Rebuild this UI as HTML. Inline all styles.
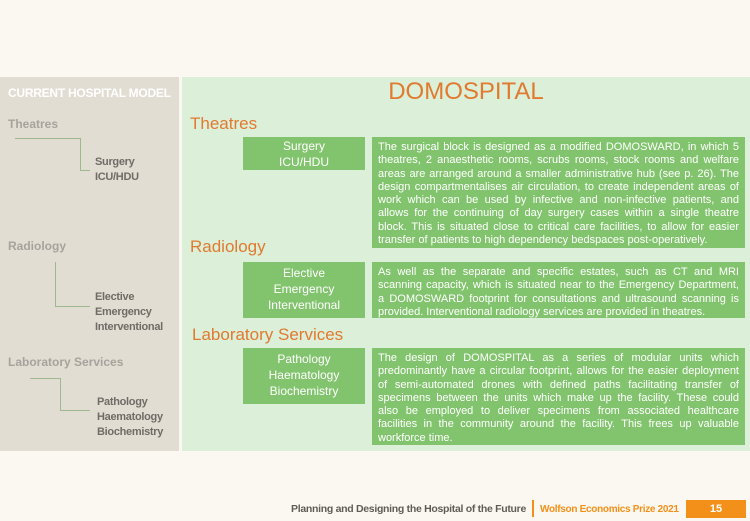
<!DOCTYPE html>
<html><head><meta charset="utf-8"><style>
*{margin:0;padding:0;box-sizing:border-box}
body{width:750px;height:521px;background:#fbf8f1;font-family:"Liberation Sans",sans-serif;position:relative;overflow:hidden}
.a{position:absolute}
.lp{left:0;top:77px;width:179px;height:374px;background:#e2ddd3}
.rp{left:182px;top:77px;width:568px;height:374px;background:#dcefd8}
.g{color:#a6a39c;font-size:12px;font-weight:bold}
.d{color:#6f6c66;font-size:11px;font-weight:bold;line-height:15px;letter-spacing:-0.3px}
.o{color:#e07a2f;font-size:17px}
.gb{background:#82c46e;color:#fff;text-align:center;font-size:12px;line-height:16px}
.tb{background:#82c46e;color:#fff;font-family:"Liberation Sans Narrow","Liberation Sans",sans-serif;font-size:11px;line-height:13.3px;padding:4px 6px 0 6px}
.tb div{text-align:justify;text-align-last:justify;white-space:nowrap;overflow:hidden;height:13.3px}
.tb div.l{text-align-last:left}
.ln{border-color:#9fb98f;border-style:solid}
</style></head><body>
<div class="a lp"></div><div class="a rp"></div>
<div class="a" style="left:8px;top:86px;color:#fff;font-size:12px;font-weight:bold;letter-spacing:-0.25px">CURRENT HOSPITAL MODEL</div>
<div class="a g" style="left:8px;top:117px">Theatres</div>
<div class="a ln" style="left:15px;top:138px;width:66px;height:33px;border-width:1px 1px 0 0"></div>
<div class="a ln" style="left:80px;top:170px;width:10px;height:0;border-width:1px 0 0 0"></div>
<div class="a d" style="left:95px;top:155px">Surgery<br>ICU/HDU</div>
<div class="a g" style="left:8px;top:239px">Radiology</div>
<div class="a ln" style="left:55px;top:262px;width:35px;height:45px;border-width:0 0 1px 1px"></div>
<div class="a d" style="left:95px;top:290px">Elective<br>Emergency<br>Interventional</div>
<div class="a g" style="left:8px;top:355px">Laboratory Services</div>
<div class="a ln" style="left:30px;top:378px;width:31px;height:33px;border-width:1px 1px 0 0"></div>
<div class="a ln" style="left:60px;top:410px;width:30px;height:0;border-width:1px 0 0 0"></div>
<div class="a d" style="left:97px;top:395px">Pathology<br>Haematology<br>Biochemistry</div>

<div class="a" style="left:182px;width:568px;top:78px;text-align:center;color:#e07a2f;font-size:24px">DOMOSPITAL</div>
<div class="a o" style="left:190px;top:114px">Theatres</div>
<div class="a gb" style="left:243px;top:137px;width:122px;height:33px;padding-top:1px">Surgery<br>ICU/HDU</div>
<div class="a tb" style="left:372px;top:137px;width:373px;height:111px">
<div>The surgical block is designed as a modified DOMOSWARD, in which 5</div>
<div>theatres, 2 anaesthetic rooms, scrubs rooms, stock rooms and welfare</div>
<div>areas are arranged around a smaller administrative hub (see p. 26). The</div>
<div>design compartmentalises air circulation, to create independent areas of</div>
<div>work which can be used by infective and non-infective patients, and</div>
<div>allows for the continuing of day surgery cases within a single theatre</div>
<div>block. This is situated close to critical care facilities, to allow for easier</div>
<div class="l">transfer of patients to high dependency bedspaces post-operatively.</div>
</div>
<div class="a o" style="left:190px;top:237px">Radiology</div>
<div class="a gb" style="left:243px;top:262px;width:122px;height:56px;padding-top:3px">Elective<br>Emergency<br>Interventional</div>
<div class="a tb" style="left:372px;top:262px;width:373px;height:56px">
<div>As well as the separate and specific estates, such as CT and MRI</div>
<div>scanning capacity, which is situated near to the Emergency Department,</div>
<div>a DOMOSWARD footprint for consultations and ultrasound scanning is</div>
<div class="l">provided. Interventional radiology services are provided in theatres.</div>
</div>
<div class="a o" style="left:192px;top:325px">Laboratory Services</div>
<div class="a gb" style="left:243px;top:348px;width:122px;height:56px;padding-top:3px">Pathology<br>Haematology<br>Biochemistry</div>
<div class="a tb" style="left:372px;top:348px;width:373px;height:97px">
<div>The design of DOMOSPITAL as a series of modular units which</div>
<div>predominantly have a circular footprint, allows for the easier deployment</div>
<div>of semi-automated drones with defined paths facilitating transfer of</div>
<div>specimens between the units which make up the facility. These could</div>
<div>also be employed to deliver specimens from associated healthcare</div>
<div>facilities in the community around the facility. This frees up valuable</div>
<div class="l">workforce time.</div>
</div>

<div class="a" style="left:250px;top:503px;width:276px;text-align:right;color:#5f5c57;font-size:10.5px;font-weight:bold;letter-spacing:-0.3px">Planning and Designing the Hospital of the Future</div>
<div class="a" style="left:532px;top:500px;width:2px;height:17px;background:#f39019"></div>
<div class="a" style="left:540px;top:504px;color:#f39019;font-size:10px;font-weight:bold;letter-spacing:-0.3px">Wolfson Economics Prize 2021</div>
<div class="a" style="left:686px;top:500px;width:60px;height:18px;background:#f39019;color:#fff;font-size:11px;font-weight:bold;text-align:center;line-height:18px">15</div>
</body></html>
